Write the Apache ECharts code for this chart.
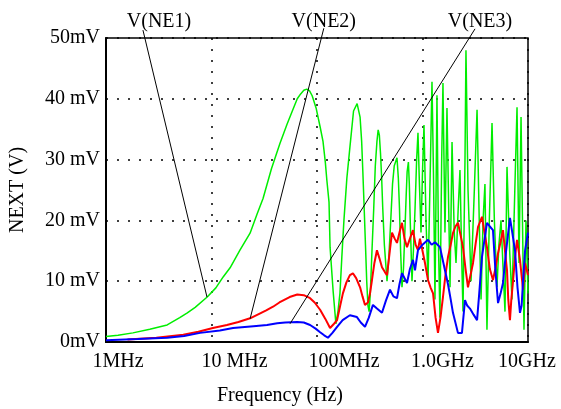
<!DOCTYPE html>
<html lang="en">
<head>
    <meta charset="UTF-8">
    <title>NEXT</title>
    <style>
        html,body{
            padding: 0;
            margin: 0;
            width: 100%;
            height: 100%;
            background: #fff;
        }
        .map{
            width: 561px;
            height: 409px;
        }
    </style>
    <script src="https://cdn.jsdelivr.net/npm/echarts@6/dist/echarts.min.js"></script>
</head>
<body>
<div class="map"></div>
<script>
    // frequency in MHz, voltage in mV
    let freqTicks = [1, 10, 100, 1000, 10000];
    let freqTickLabels = ['1MHz', '10 MHz', '100MHz', '1.0GHz', '10GHz'];
    let voltTickLabels = ['0mV', '10 mV', '20 mV', '30 mV', '40 mV', '50mV'];

    let ne1 = [[1,0.9],[1.3,1.1],[1.8,1.5],[2.6,2.1],[3.8,2.8],[5,4],[5.9,4.8],[7,5.7],[9.1,7.4],[11,8.9],[12.9,10.7],[15,12.2],[18.6,15.1],[23.2,17.9],[27,21],[30.8,23.6],[37,28.5],[44.6,32.7],[52,35.8],[59,38.2],[65,40],[70,40.8],[75,41.4],[80,41.6],[85,41.3],[90,40.5],[98,38.5],[107,35.4],[114,33],[120,29.5],[124,26.6],[130,23],[133,15.6],[142,8.5],[151,3],[158,5],[165,8],[172,14],[180,20],[192,27],[205,32],[222,38],[240,39.2],[256,37],[265,33],[272,28],[280,22],[288,16],[296,10],[304,6],[312,5],[320,8],[332,15],[345,22],[357,29],[370,33],[380,34.9],[390,34],[400,31],[410,27],[420,22],[435,16],[461,10],[480,14],[500,20],[520,26],[540,29],[573,30.3],[590,27],[605,22],[620,15],[639,9],[660,12],[680,18],[700,24],[715,28],[735,29.6],[750,26],[765,20],[795,10],[820,15],[850,22],[880,30],[906,34.4],[935,26],[968,18],[1000,28],[1033,35.7],[1080,20],[1128,10],[1190,30],[1230,42.8],[1270,28],[1313,7],[1345,25],[1371,40.6],[1420,15],[1464,4],[1520,30],[1563,42.6],[1633,18],[1706,38.5],[1780,20],[1823,9],[1905,32.9],[2000,18],[2078,13],[2180,22],[2265,28.3],[2366,12],[2420,5],[2528,30],[2582,48],[2700,25],[2884,10],[3100,25],[3289,38.2],[3450,20],[3589,7],[3750,20],[3908,26],[4083,2],[4300,20],[4560,36],[4800,20],[5082,9],[5300,16],[5546,20],[6053,5],[6324,28.8],[6700,15],[7047,7],[7500,25],[7870,38.6],[8222,13],[8590,37],[9162,2],[9572,20],[10000,8]];

    let ne2 = [[1.6,0.4],[3,0.7],[5.4,1.2],[7.5,1.7],[10.3,2.3],[14,2.8],[18,3.3],[23.2,3.9],[28,4.6],[33,5.2],[38.3,5.8],[44,6.5],[55,7.4],[65,7.8],[75,7.7],[86,7.2],[95,6.5],[107,5.3],[120,3.8],[133,2.3],[145,3],[155,3.6],[165,5.8],[176,8],[190,9.8],[205,11],[219,11.3],[235,10.5],[256,9],[270,7.5],[285,6.1],[304,6.5],[318,8],[332,10.2],[350,13],[370,15.1],[390,13.8],[413,12.3],[440,11.5],[461,11],[490,15],[514,18],[545,17],[573,16.3],[605,18],[639,19.6],[675,17],[713,15.6],[760,17],[812,18.4],[860,16],[906,15.1],[946,17],[1000,15],[1056,13],[1128,10.2],[1190,9],[1259,8],[1330,4],[1402,1.5],[1480,4],[1563,7.4],[1650,11],[1745,14],[1850,16],[1945,17.9],[2050,19],[2168,19.6],[2300,17.5],[2420,15.6],[2560,12],[2698,9],[2850,11],[3013,13],[3180,16],[3357,18.9],[3664,20.6],[3870,18],[4083,15.6],[4350,12],[4656,10.2],[4900,12],[5200,14.6],[5500,16.5],[5794,18.4],[6050,15],[6324,11.8],[6500,7],[6745,3.6],[6950,7],[7211,10],[7534,14],[7870,16.8],[8395,13.5],[8974,8.6],[9376,13],[10000,11]];

    let ne3 = [[1,0.3],[2,0.5],[3.8,0.7],[5.5,1],[7.8,1.5],[12,1.9],[16,2.3],[25,2.6],[33.6,2.8],[42,3.1],[50,3.2],[65,3.3],[75,3.2],[86,2.8],[97,2.2],[107,1.6],[117,1.1],[127,0.7],[140,1.5],[155,2.5],[175,3.6],[205,4.4],[239,4.1],[260,3.2],[285,2.5],[310,4],[339,6.1],[370,5.5],[413,4.8],[450,6.8],[492,8.6],[530,7.5],[573,7.2],[605,9.5],[639,11.3],[713,9.7],[760,12],[812,13.5],[849,11.8],[906,15.1],[1000,16],[1128,16.8],[1220,16],[1313,16.4],[1464,15.6],[1633,11.8],[1745,9.5],[1850,7],[1945,4.8],[2168,1.5],[2366,1.5],[2528,6.9],[2650,6],[2818,5.5],[3050,4.5],[3289,3.6],[3450,8],[3664,14],[4083,19.6],[4350,19],[4656,18.4],[4900,12],[5200,6.4],[5500,8],[5794,9.7],[6200,15],[6745,20.4],[7100,18],[7534,15],[7950,9],[8395,4.8],[8700,6],[8974,10],[9376,15],[10000,18]];

    // annotation labels and the leader lines to each curve
    let annoNames = ['V(NE1)', 'V(NE2)', 'V(NE3)'];
    let annoText = [[3.18, 52.6], [116, 52.6], [3508, 52.6]];
    let annoFrom = [[2.24, 51.3], [116, 51.6], [3146, 51.5]];
    let annoTo = [[9.06, 7.4], [23.2, 3.8], [55.5, 3.0]];

    let font = '"Liberation Serif", "Times New Roman", serif';
    let xLabelShift = [12, 23, 27, 20, -1];

    let map = document.querySelector('.map');
    let myChart = echarts.init(map);

    let dotted = {color: '#000', type: [2, 9], width: 1.5};

    let option = {
        animation: false,
        backgroundColor: '#fff',
        grid: {
            left: 106, right: 33, top: 38, bottom: 67,
            outerBoundsMode: 'none',
            containLabel: false,
            show: true, borderColor: '#000', borderWidth: 1.5
        },
        xAxis: {
            type: 'log',
            logBase: 10,
            min: 1,
            max: 10000,
            name: 'Frequency (Hz)',
            nameLocation: 'middle',
            nameGap: 44,
            nameTextStyle: {fontFamily: font, fontSize: 20, color: '#000', padding: [0, 74, 0, 0]},
            axisLine: {show: true, lineStyle: {color: '#000', width: 2}},
            axisTick: {show: false},
            axisLabel: {show: false},
            splitLine: {show: true, lineStyle: dotted}
        },
        yAxis: {
            type: 'value',
            min: 0,
            max: 50,
            interval: 10,
            name: 'NEXT (V)',
            nameLocation: 'middle',
            nameGap: 78,
            nameTextStyle: {fontFamily: font, fontSize: 20, color: '#000'},
            axisLine: {show: true, lineStyle: {color: '#000', width: 2}},
            axisTick: {show: false},
            axisLabel: {
                margin: 6,
                fontFamily: font,
                fontSize: 20,
                color: '#000',
                formatter: function (v) {
                    return voltTickLabels[Math.round(v / 10)];
                }
            },
            splitLine: {show: true, lineStyle: dotted}
        },
        series: [
            {name: 'V(NE1)', type: 'line', data: ne1, showSymbol: false, lineStyle: {color: '#00ee00', width: 1.5}, itemStyle: {color: '#00ee00'}},
            {name: 'V(NE2)', type: 'line', data: ne2, showSymbol: false, lineStyle: {color: '#ff0000', width: 2}, itemStyle: {color: '#ff0000'}},
            {name: 'V(NE3)', type: 'line', data: ne3, showSymbol: false, lineStyle: {color: '#0000ff', width: 2}, itemStyle: {color: '#0000ff'}}
        ]
    };

    myChart.setOption(option);

    let graphic = [];
    freqTicks.forEach((f, i) => {
        let p = myChart.convertToPixel({gridIndex: 0}, [f, 0]);
        graphic.push({
            type: 'text',
            x: p[0] + xLabelShift[i],
            y: p[1] + 20,
            style: {
                text: freqTickLabels[i], fill: '#000', font: '20px ' + font,
                textAlign: 'center', textVerticalAlign: 'middle',
                align: 'center', verticalAlign: 'middle'
            }
        });
    });
    annoNames.forEach((name, i) => {
        let a = myChart.convertToPixel({gridIndex: 0}, annoFrom[i]);
        let b = myChart.convertToPixel({gridIndex: 0}, annoTo[i]);
        let t = myChart.convertToPixel({gridIndex: 0}, annoText[i]);
        graphic.push({
            type: 'line',
            shape: {x1: a[0], y1: a[1], x2: b[0], y2: b[1]},
            style: {stroke: '#000', lineWidth: 1},
            z: 100
        });
        graphic.push({
            type: 'text',
            x: t[0],
            y: t[1],
            style: {
                text: name, fill: '#000', font: '20px ' + font,
                textAlign: 'center', textVerticalAlign: 'middle',
                align: 'center', verticalAlign: 'middle'
            }
        });
    });
    myChart.setOption({graphic: graphic});
</script>
</body>
</html>
